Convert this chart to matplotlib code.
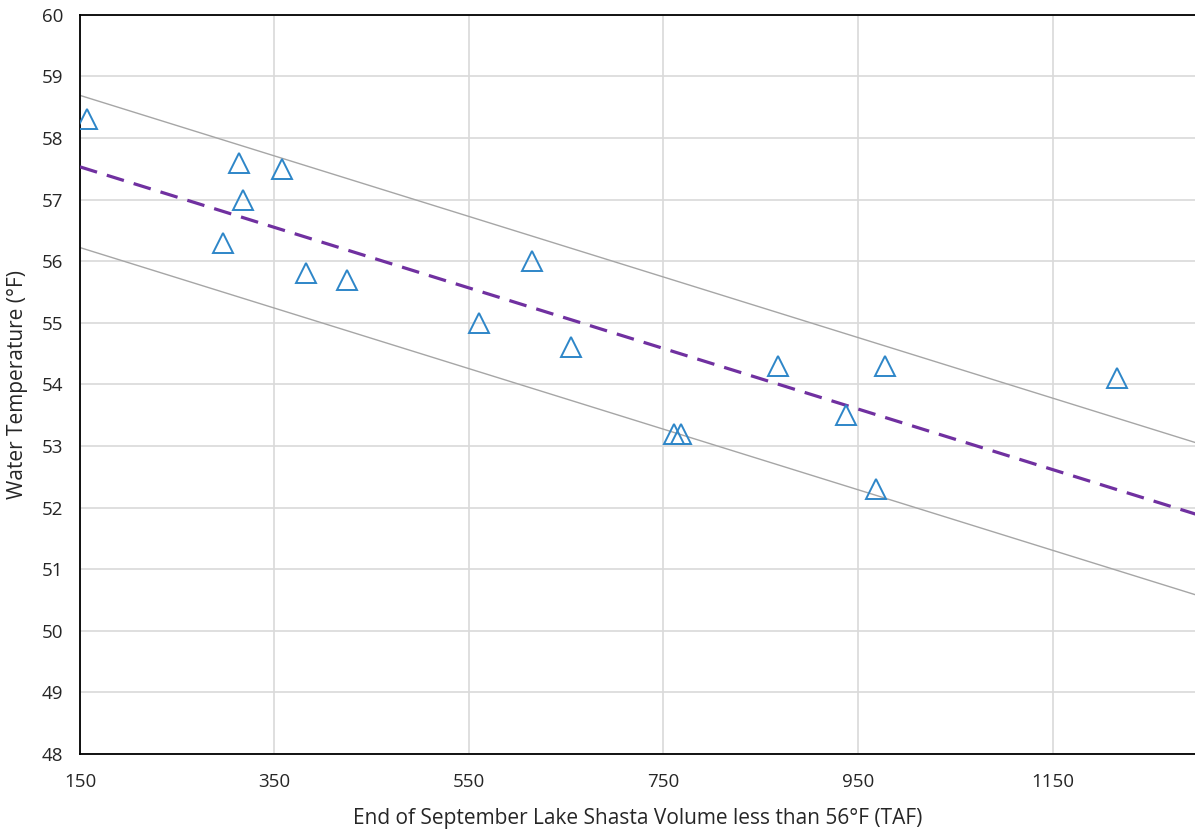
import matplotlib
matplotlib.use('Agg')
import matplotlib.pyplot as plt
import numpy as np

# observed end-of-September cold water volume vs water temperature
volume = [157, 314, 358, 318, 297, 382, 425, 560, 615, 655, 761, 768, 868, 938, 969, 978, 1216]
temp = [58.3, 57.6, 57.5, 57.0, 56.3, 55.8, 55.7, 55.0, 56.0, 54.6, 53.2, 53.2, 54.3, 53.5, 52.3, 54.3, 54.1]

# regression line and bounds, values at the ends of the x range
line_x = [150, 1300]
trend_y = [57.53, 51.88]
upper_y = [58.69, 53.04]
lower_y = [56.22, 50.57]

x_ticks = [150, 350, 550, 750, 950, 1150]
y_ticks = list(range(48, 61))

plt.rcParams['font.family'] = ['Open Sans', 'DejaVu Sans']

fig = plt.figure(figsize=(11.95, 8.33), dpi=100)
ax = fig.add_axes([0.0669, 0.0948, 0.9331, 0.8876])

ax.plot(line_x, upper_y, color='#a6a6a6', linewidth=1.0, zorder=2)
ax.plot(line_x, lower_y, color='#a6a6a6', linewidth=1.0, zorder=2)
ax.plot(line_x, trend_y, color='#7030a0', linewidth=2.3, linestyle=(0, (5.6, 3.2)), zorder=3)
ax.plot(volume, temp, linestyle='none', marker='^', markersize=14.5,
        markerfacecolor='none', markeredgecolor='#2e86c8', markeredgewidth=1.4, zorder=4)

ax.set_xlim(150, 1296.5)
ax.set_ylim(48, 60)
ax.set_xticks(x_ticks)
ax.set_yticks(y_ticks)
ax.grid(True, color='#d9d9d9', linewidth=1.2)
ax.set_axisbelow(True)

for side in ['left', 'bottom', 'top']:
    ax.spines[side].set_color('black')
    ax.spines[side].set_linewidth(1.3)
ax.spines['right'].set_visible(False)

ax.tick_params(axis='both', length=0, labelsize=13.5, colors='#262626')
ax.tick_params(axis='x', pad=14)
ax.tick_params(axis='y', pad=12)

ax.set_xlabel('End of September Lake Shasta Volume less than 56°F (TAF)', fontsize=15, color='#262626', labelpad=12)
ax.set_ylabel('Water Temperature (°F)', fontsize=15, color='#262626', labelpad=10)

fig.savefig('out.png', dpi=100)
